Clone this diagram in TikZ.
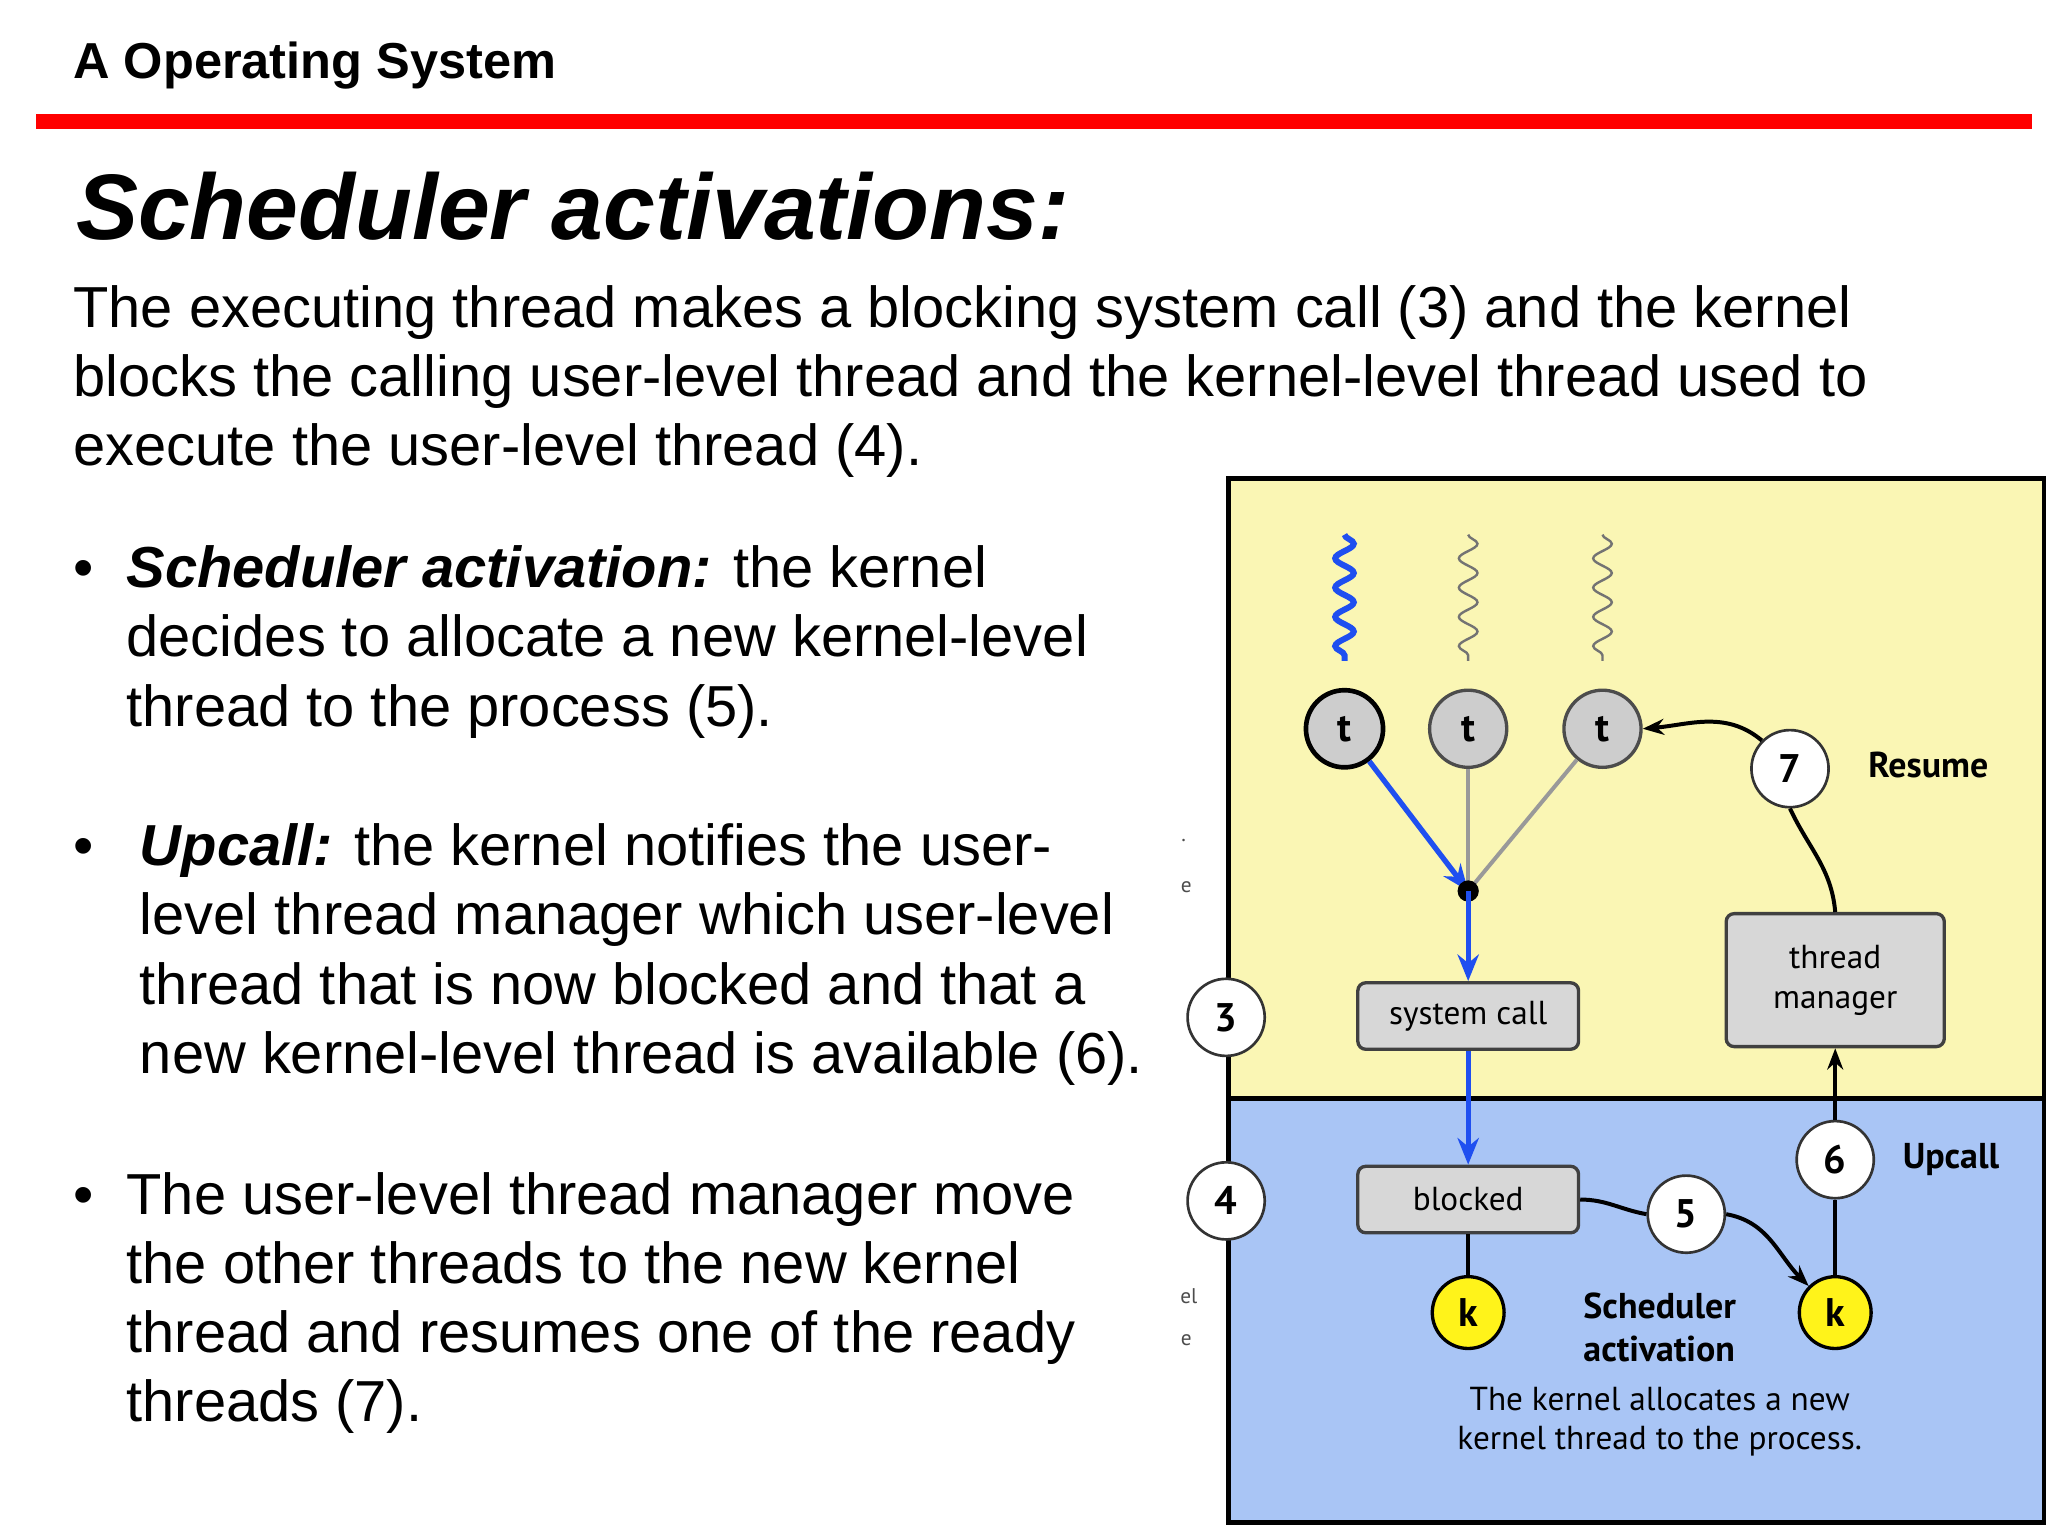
\documentclass[tikz,border=0pt]{standalone}
\usepackage{fontspec}
\setmainfont{Liberation Sans}
\newfontfamily\dfont{PT Sans}
\usetikzlibrary{decorations.pathmorphing,arrows.meta}
\definecolor{yel}{HTML}{FAF6B4}
\definecolor{blu}{HTML}{A9C5F5}
\definecolor{tg}{HTML}{CDCDCD}
\definecolor{bl}{HTML}{1F4FF0}
\tikzset{
 tnode/.style={circle,draw=black!70,line width=2.5pt,fill=tg,minimum size=58pt,inner sep=0pt,font=\dfont\fontsize{30}{30}\selectfont\bfseries},
 knode/.style={circle,draw=black,line width=2.5pt,fill=yellow!90!white,minimum size=54pt,inner sep=0pt,font=\dfont\fontsize{30}{30}\selectfont\bfseries},
 num/.style={circle,draw=black!80,line width=2pt,fill=white,minimum size=58pt,inner sep=0pt,font=\dfont\fontsize{30}{30}\selectfont\bfseries},
 boxn/.style={draw=black!75,line width=2.5pt,fill=tg!80,rounded corners=6pt,minimum width=166pt,minimum height=50pt,font=\dfont\fontsize{25}{30}\selectfont,align=center},
 lab/.style={font=\dfont\fontsize{27}{32}\selectfont\bfseries,align=left},
 body/.style={anchor=base west,font=\fontsize{43.5}{52}\selectfont,inner sep=0pt},
 sq/.style={decorate,decoration={snake,amplitude=7pt,segment length=22pt}},
 darr/.style={line width=4pt,-{Stealth[length=20pt,width=16pt]}},
}
\begin{document}
\begin{tikzpicture}[x=1pt,y=-1pt]
\useasboundingbox (0,0) rectangle (1540,1155);
\fill[white] (0,0) rectangle (1540,1155);
\node[anchor=base west,inner sep=0pt,font=\fontsize{38}{40}\selectfont\bfseries] (hdr) at (55,59) {A Operating System};
\fill[red] (27,86) rectangle (1528,97);
\node[anchor=base west,inner sep=0pt,font=\fontsize{70}{80}\selectfont\bfseries\itshape] (ttl) at (57,180) {Scheduler activations:};
\node[body] (p1) at (55,246) {The executing thread makes a blocking system call (3) and the kernel};
\node[body] (p2) at (55,298) {blocks the calling user-level thread and the kernel-level thread used to};
\node[body] (p3) at (55,350) {execute the user-level thread (4).};
\node[body] (b1) at (55,442) {•};
\node[body] (b1a) at (95,442) {\textbf{\textit{Scheduler activation:}} the kernel};
\node[body] (b1b) at (95,494) {decides to allocate a new kernel-level};
\node[body] (b1c) at (95,546) {thread to the process (5).};
\node[body] (b2) at (55,651) {•};
\node[body] (b2a) at (105,651) {\textbf{\textit{Upcall:}} the kernel notifies the user-};
\node[body] (b2b) at (105,703) {level thread manager which user-level};
\node[body] (b2c) at (105,755) {thread that is now blocked and that a};
\node[body] (b2d) at (105,807) {new kernel-level thread is available (6).};
\node[body] (b3) at (55,913) {•};
\node[body] (b3a) at (95,913) {The user-level thread manager move};
\node[body] (b3b) at (95,965) {the other threads to the new kernel};
\node[body] (b3c) at (95,1017) {thread and resumes one of the ready};
\node[body] (b3d) at (95,1069) {threads (7).};
% stray marks
\node[font=\dfont\fontsize{16}{16}\selectfont,text=black!70] (s0) at (890,632) {.};
\node[font=\dfont\fontsize{16}{16}\selectfont,text=black!70] (s1) at (892,667) {e};
\node[font=\dfont\fontsize{16}{16}\selectfont,text=black!70] (s2) at (894,975) {el};
\node[font=\dfont\fontsize{16}{16}\selectfont,text=black!70] (s3) at (892,1008) {e};
% diagram
\fill[yel] (924,360) rectangle (1537,826);
\fill[blu] (924,826) rectangle (1537,1145);
\draw[line width=3.5pt] (924,826) -- (1537,826);
\draw[line width=3.5pt] (924,360) rectangle (1537,1145);
\draw[sq,bl,line width=4.5pt] (1011,402) -- (1011,497);
\draw[sq,black!55,line width=1.8pt] (1104,402) -- (1104,497);
\draw[sq,black!55,line width=1.8pt] (1205,402) -- (1205,497);
\node[tnode,line width=3.5pt,draw=black] (t1) at (1011,548) {t};
\node[tnode] (t2) at (1104,548) {t};
\node[tnode] (t3) at (1205,548) {t};
\coordinate (j) at (1104,670);
\node[boxn] (sc) at (1104,764) {system call};
\node[boxn] (bk) at (1104,902) {blocked};
\node[knode] (k1) at (1104,987) {k};
\node[knode] (k2) at (1380,987) {k};
\node[boxn,minimum width=164pt,minimum height=100pt] (tm) at (1380,737) {thread\\manager};
\node[num] (n3) at (922,765) {3};
\node[num] (n4) at (922,903) {4};
\node[num] (n5) at (1268,913) {5};
\node[num] (n6) at (1380,872) {6};
\node[num] (n7) at (1346,578) {7};
\draw[black!40,line width=3pt] (t2) -- (j);
\draw[black!40,line width=3pt] (t3) -- (j);
\draw[bl,darr] (t1) -- (j);
\fill (j) circle (8pt);
\draw[bl,darr] (j) -- (sc);
\draw[bl,darr] (sc) -- (bk);
\draw[line width=3pt] (bk) -- (k1);
\draw[line width=3pt] (bk.east) to[out=0,in=170] (n5.west);
\draw[line width=3pt,-{Stealth[length=16pt,width=12pt]}] (n5.east) to[out=-10,in=135] (k2);
\draw[line width=3pt] (k2) -- (n6);
\draw[line width=3pt,-{Stealth[length=16pt,width=12pt]}] (n6) -- (tm);
\draw[line width=3pt] (tm.north) to[out=95,in=-65] (n7.south);
\draw[line width=3pt,-{Stealth[length=16pt,width=12pt]}] (n7.north west) to[out=140,in=5] (t3.east);
\node[lab] (rs) at (1450,575) {Resume};
\node[lab] (up) at (1467,872) {Upcall};
\node[lab] (sa) at (1248,998) {Scheduler\\activation};
\node[font=\dfont\fontsize{25}{30}\selectfont,align=center] (tx) at (1248,1069) {The kernel allocates a new\\kernel thread to the process.};
\end{tikzpicture}
\end{document}
